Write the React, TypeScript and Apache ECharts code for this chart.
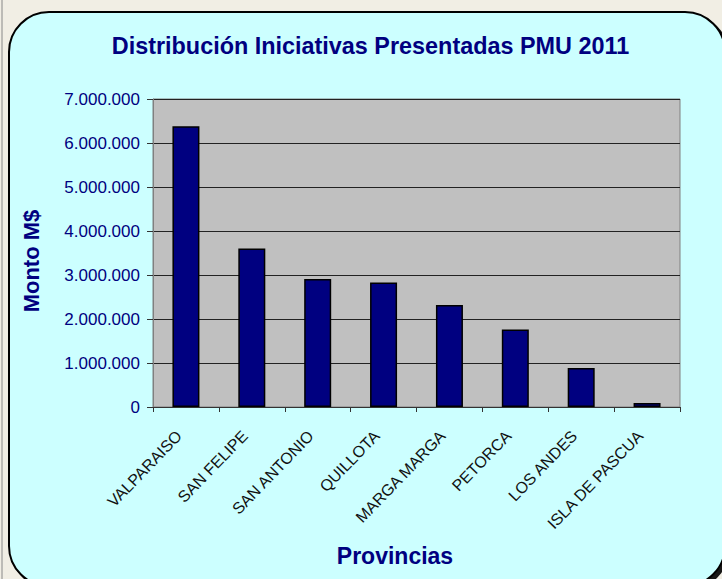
import React, { useEffect, useRef } from "react";
import * as echarts from "echarts";

const categories = [
  "VALPARAISO",
  "SAN FELIPE",
  "SAN ANTONIO",
  "QUILLOTA",
  "MARGA MARGA",
  "PETORCA",
  "LOS ANDES",
  "ISLA DE PASCUA",
];
const montos = [6380000, 3600000, 2910000, 2830000, 2320000, 1760000, 886000, 90000];
const titleText = "Distribución Iniciativas Presentadas PMU 2011";
const yAxisName = "Monto M$";
const xAxisName = "Provincias";
const yMin = 0;
const yMax = 7000000;
const yStep = 1000000;

const fmt = (v: number) => String(v).replace(/\B(?=(\d{3})+(?!\d))/g, ".");

export default function App() {
  const ref = useRef<HTMLDivElement>(null);
  useEffect(() => {
    if (!ref.current) return;
    const chart = echarts.init(ref.current, undefined, { renderer: "svg" });
    const font = "Arial, 'Liberation Sans', sans-serif";
    chart.setOption({
      animation: false,
      backgroundColor: "#F1EEE4",
      textStyle: { fontFamily: font },
      graphic: [
        {
          type: "line",
          shape: { x1: 2, y1: 0, x2: 2, y2: 579 },
          style: { stroke: "#888", lineWidth: 1 },
          z: -10,
        },
        {
          type: "rect",
          shape: { x: 9, y: 12, width: 716, height: 574, r: 40 },
          style: {
            fill: "#CCFFFF",
            stroke: "#000",
            lineWidth: 2,
            shadowColor: "rgba(0,0,0,0.9)",
            shadowOffsetX: 3,
            shadowOffsetY: 3,
            shadowBlur: 0,
          },
          z: -5,
        },
        {
          type: "text",
          x: 31,
          y: 261,
          rotation: Math.PI / 2,
          style: {
            text: yAxisName,
            fill: "#000080",
            font: "bold 22px Arial, 'Liberation Sans', sans-serif",
            textAlign: "center",
            textVerticalAlign: "middle",
          },
          z: 10,
        },
        {
          type: "text",
          x: 395,
          y: 556,
          style: {
            text: xAxisName,
            fill: "#000080",
            font: "bold 23px Arial, 'Liberation Sans', sans-serif",
            textAlign: "center",
            textVerticalAlign: "middle",
          },
          z: 10,
        },
        {
          type: "text",
          x: 370.5,
          y: 46,
          style: {
            text: titleText,
            fill: "#000080",
            font: "bold 23.4px Arial, 'Liberation Sans', sans-serif",
            textAlign: "center",
            textVerticalAlign: "middle",
          },
          z: 10,
        },
      ],
      grid: {
        left: 153,
        right: 42,
        top: 99,
        bottom: 172,
        show: true,
        containLabel: false,
        outerBoundsMode: "none",
        backgroundColor: "#C0C0C0",
        borderColor: "#808080",
        borderWidth: 1,
      },
      xAxis: {
        type: "category",
        data: categories,
        axisLine: { lineStyle: { color: "#333", width: 1 } },
        axisTick: { show: true, length: 5, lineStyle: { color: "#333" } },
        axisLabel: {
          rotate: 46,
          margin: 19,
          color: "#111",
          fontSize: 16,
          fontFamily: font,
          interval: 0,
          padding: [0, 10, 0, 0],
        },
      },
      yAxis: {
        type: "value",
        min: yMin,
        max: yMax,
        interval: yStep,
        axisLine: { show: true, lineStyle: { color: "#808080", width: 1 } },
        axisTick: { show: true, length: 6, lineStyle: { color: "#333" } },
        axisLabel: {
          color: "#000080",
          fontSize: 17,
          margin: 13,
          fontFamily: font,
          formatter: (v: number) => fmt(v),
        },
        splitLine: { show: true, lineStyle: { color: "#222", width: 1 } },
      },
      series: [
        {
          type: "bar",
          data: montos,
          barWidth: 27,
          itemStyle: { color: "#000080", borderColor: "#000", borderWidth: 1.5 },
        },
      ],
    });
    return () => chart.dispose();
  }, []);
  return (
    <div style={{ position: "fixed", left: 0, top: 0, width: 722, height: 579 }}>
      <div ref={ref} style={{ width: 722, height: 579 }} />
    </div>
  );
}
